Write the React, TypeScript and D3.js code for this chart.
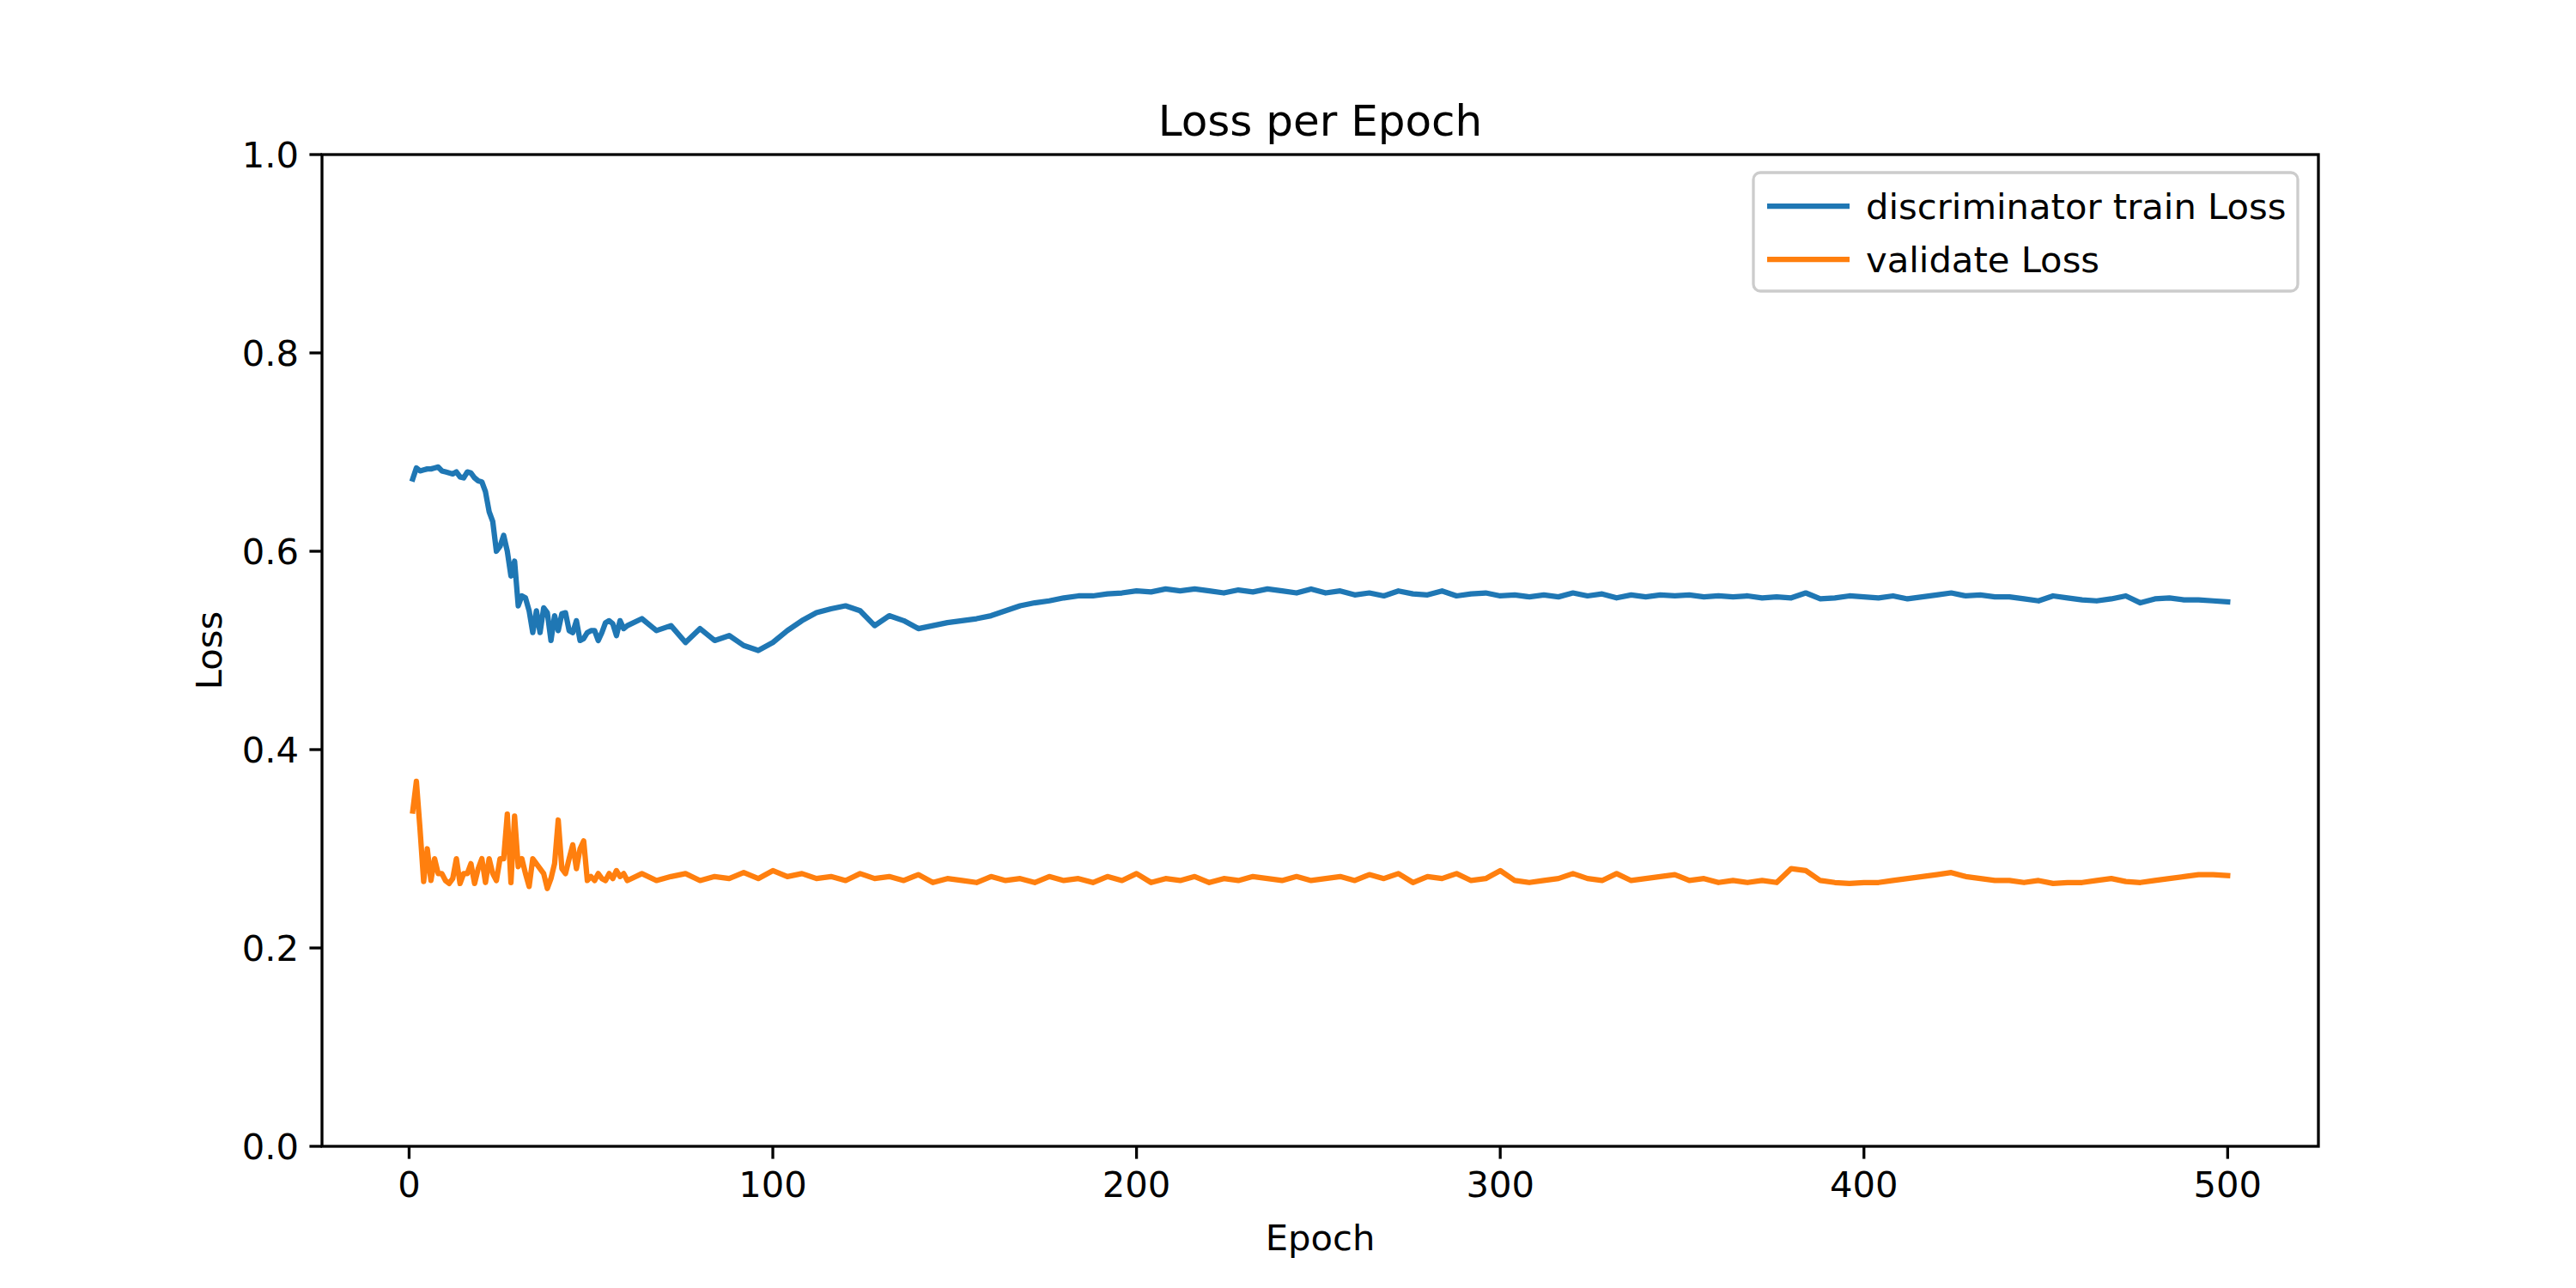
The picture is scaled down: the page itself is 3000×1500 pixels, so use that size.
import * as d3 from "d3";

const epochs: number[] = [
  ...Array.from({ length: 60 }, (_, i) => i + 1),
  ...Array.from({ length: 110 }, (_, i) => 64 + i * 4),
];

const trainLoss: number[] = [
  0.673, 0.684, 0.681, 0.682, 0.683, 0.683, 0.684, 0.685, 0.681, 0.68,
  0.679, 0.678, 0.68, 0.675, 0.674, 0.68, 0.679, 0.674, 0.671, 0.67,
  0.66, 0.64, 0.63, 0.6, 0.605, 0.616, 0.6, 0.575, 0.59, 0.545,
  0.555, 0.553, 0.54, 0.518, 0.54, 0.518, 0.543, 0.538, 0.51, 0.535,
  0.52, 0.537, 0.538, 0.52, 0.518, 0.53, 0.51, 0.512, 0.518, 0.52,
  0.52, 0.51, 0.518, 0.528, 0.53, 0.527, 0.515, 0.53, 0.522, 0.525,
  0.532, 0.52, 0.525, 0.508, 0.522, 0.51, 0.515, 0.505, 0.5, 0.508,
  0.52, 0.53, 0.538, 0.542, 0.545, 0.54, 0.525, 0.535, 0.53, 0.522,
  0.525, 0.528, 0.53, 0.532, 0.535, 0.54, 0.545, 0.548, 0.55, 0.553,
  0.555, 0.555, 0.557, 0.558, 0.56, 0.559, 0.562, 0.56, 0.562, 0.56,
  0.558, 0.561, 0.559, 0.562, 0.56, 0.558, 0.562, 0.558, 0.56, 0.556,
  0.558, 0.555, 0.56, 0.557, 0.556, 0.56, 0.555, 0.557, 0.558, 0.555,
  0.556, 0.554, 0.556, 0.554, 0.558, 0.555, 0.557, 0.553, 0.556, 0.554,
  0.556, 0.555, 0.556, 0.554, 0.555, 0.554, 0.555, 0.553, 0.554, 0.553,
  0.558, 0.552, 0.553, 0.555, 0.554, 0.553, 0.555, 0.552, 0.554, 0.556,
  0.558, 0.555, 0.556, 0.554, 0.554, 0.552, 0.55, 0.555, 0.553, 0.551,
  0.55, 0.552, 0.555, 0.548, 0.552, 0.553, 0.551, 0.551, 0.55, 0.549,
];

const valLoss: number[] = [
  0.338, 0.368, 0.32, 0.267, 0.3, 0.268, 0.29, 0.275, 0.275, 0.268,
  0.265, 0.27, 0.29, 0.265, 0.275, 0.275, 0.285, 0.265, 0.28, 0.29,
  0.266, 0.29, 0.275, 0.268, 0.29, 0.29, 0.335, 0.266, 0.333, 0.282,
  0.29, 0.275, 0.262, 0.29, 0.285, 0.28, 0.275, 0.26, 0.27, 0.285,
  0.329, 0.28, 0.275, 0.29, 0.304, 0.28, 0.3, 0.308, 0.268, 0.272,
  0.268, 0.275, 0.27, 0.268, 0.275, 0.27, 0.278, 0.272, 0.275, 0.268,
  0.275, 0.268, 0.272, 0.275, 0.268, 0.272, 0.27, 0.276, 0.27, 0.278,
  0.272, 0.275, 0.27, 0.272, 0.268, 0.275, 0.27, 0.272, 0.268, 0.274,
  0.266, 0.27, 0.268, 0.266, 0.272, 0.268, 0.27, 0.266, 0.272, 0.268,
  0.27, 0.266, 0.272, 0.268, 0.275, 0.266, 0.27, 0.268, 0.272, 0.266,
  0.27, 0.268, 0.272, 0.27, 0.268, 0.272, 0.268, 0.27, 0.272, 0.268,
  0.274, 0.27, 0.275, 0.266, 0.272, 0.27, 0.275, 0.268, 0.27, 0.278,
  0.268, 0.266, 0.268, 0.27, 0.275, 0.27, 0.268, 0.275, 0.268, 0.27,
  0.272, 0.274, 0.268, 0.27, 0.266, 0.268, 0.266, 0.268, 0.266, 0.28,
  0.278, 0.268, 0.266, 0.265, 0.266, 0.266, 0.268, 0.27, 0.272, 0.274,
  0.276, 0.272, 0.27, 0.268, 0.268, 0.266, 0.268, 0.265, 0.266, 0.266,
  0.268, 0.27, 0.267, 0.266, 0.268, 0.27, 0.272, 0.274, 0.274, 0.273,
];

const xTicks = [0, 100, 200, 300, 400, 500];
const yTicks = [0, 0.2, 0.4, 0.6, 0.8, 1.0];
const seriesNames = ["discriminator train Loss", "validate Loss"];
const colors = ["#1f77b4", "#ff7f0e"];

const W = 3000, H = 1500;
const left = 375, right = 2700, top = 180, bottom = 1335;
const font = "DejaVu Sans, sans-serif";
const fs = 41.7;

export default function App() {
  const x = d3.scaleLinear([-23.95, 524.95], [left, right]);
  const y = d3.scaleLinear([0, 1], [bottom, top]);
  const line = d3.line<number>((_d, i) => x(epochs[i]), (d) => y(d));
  const series = [trainLoss, valLoss];
  return (
    <svg width={W} height={H} style={{ position: "absolute", left: 0, top: 0, background: "#fff" }} fontFamily={font}>
      {series.map((s, k) => (
        <path key={k} d={line(s) || ""} fill="none" stroke={colors[k]} strokeWidth={6.25} strokeLinejoin="round" strokeLinecap="square" />
      ))}
      <rect x={left} y={top} width={right - left} height={bottom - top} fill="none" stroke="#000" strokeWidth={3.3} />
      {xTicks.map((t) => (
        <g key={t} transform={`translate(${x(t)},${bottom})`}>
          <line y2={14.6} stroke="#000" strokeWidth={3.3} />
          <text y={59} textAnchor="middle" fontSize={fs}>{t}</text>
        </g>
      ))}
      {yTicks.map((t) => (
        <g key={t} transform={`translate(${left},${y(t)})`}>
          <line x2={-14.6} stroke="#000" strokeWidth={3.3} />
          <text x={-27} dy="0.36em" textAnchor="end" fontSize={fs}>{t.toFixed(1)}</text>
        </g>
      ))}
      <text x={(left + right) / 2} y={158} textAnchor="middle" fontSize={50}>Loss per Epoch</text>
      <text x={(left + right) / 2} y={1456} textAnchor="middle" fontSize={fs}>Epoch</text>
      <text transform={`translate(258,${(top + bottom) / 2}) rotate(-90)`} textAnchor="middle" fontSize={fs}>Loss</text>
      <g>
        <rect x={2042} y={201} width={634} height={138} rx={8} fill="#fff" fillOpacity={0.8} stroke="#ccc" strokeWidth={3.3} />
        {seriesNames.map((n, k) => (
          <g key={n} transform={`translate(2058,${240 + k * 62})`}>
            <line x2={96} stroke={colors[k]} strokeWidth={6.25} />
            <text x={115} dy="0.36em" fontSize={fs}>{n}</text>
          </g>
        ))}
      </g>
    </svg>
  );
}
